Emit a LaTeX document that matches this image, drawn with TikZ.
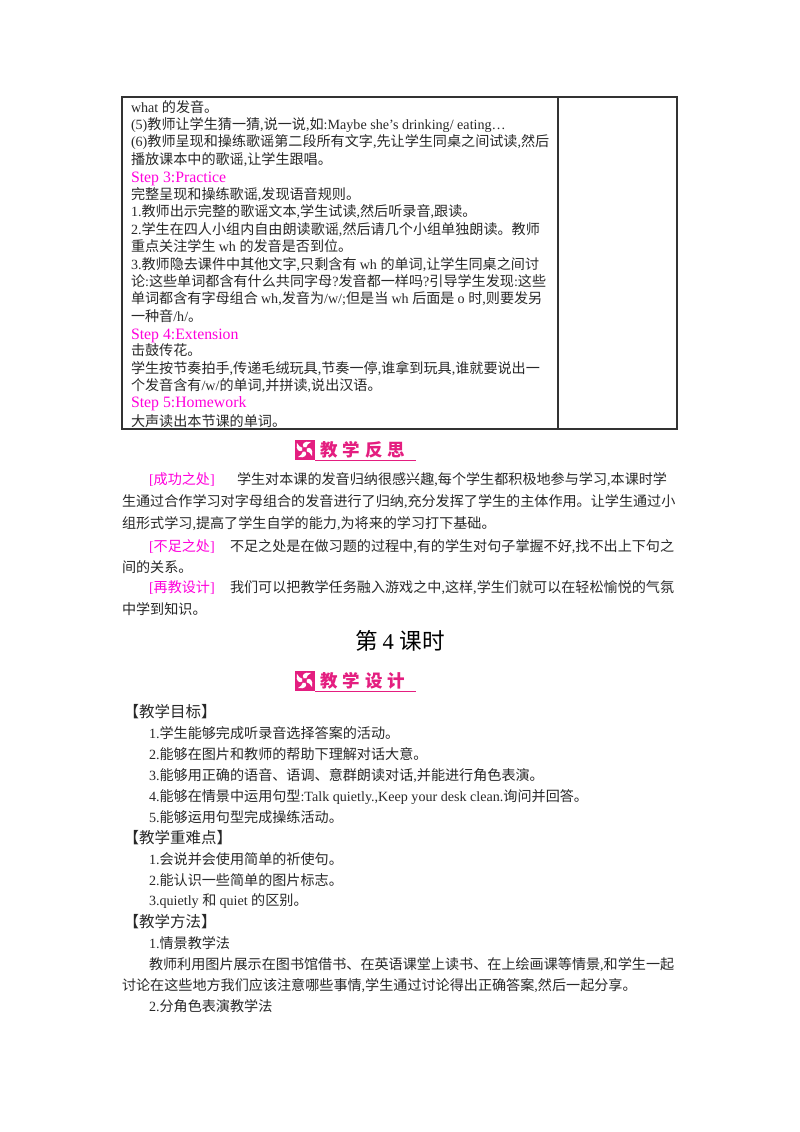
\documentclass[tikz,border=0pt]{standalone}
\usepackage{fontspec}
\setmainfont{Liberation Serif}
\newfontfamily\cjkf{Noto Sans CJK SC}
\newfontfamily\latf{Liberation Serif}
\XeTeXinterchartokenstate=1
\newXeTeXintercharclass\cjkc
\newXeTeXintercharclass\latc
\makeatletter
\newcount\my@c
\def\my@range#1#2#3{\my@c=#1\relax\loop\XeTeXcharclass\my@c=#3\relax\ifnum\my@c<#2\advance\my@c by 1\repeat}
\my@range{"3000}{"303F}{\cjkc}
\my@range{"4E00}{"9FFF}{\cjkc}
\my@range{"FF00}{"FFEF}{\cjkc}
\my@range{33}{126}{\latc}
\my@range{"2019}{"2019}{\latc}
\my@range{"2026}{"2026}{\latc}
\makeatother
\XeTeXinterchartoks 4095 \cjkc={\cjkf}
\XeTeXinterchartoks \latc \cjkc={\cjkf}
\XeTeXinterchartoks 0 \cjkc={\cjkf}
\XeTeXinterchartoks \cjkc \latc={\latf}
\XeTeXinterchartoks \cjkc 0={\latf}
\XeTeXinterchartoks 4095 \latc={\latf}
\XeTeXinterchartoks 4095 0={\latf}
\definecolor{mag}{RGB}{255,0,220}
\definecolor{ink}{RGB}{40,40,40}
\definecolor{rosec}{RGB}{228,30,128}
\tikzset{
 ln/.style={anchor=base west,inner sep=0pt,outer sep=0pt,text=ink,font=\fontsize{14.1}{17}\selectfont},
 stp/.style={ln,text=mag,font=\fontsize{15.8}{17}\selectfont},
 tag/.style={ln,text=mag},
 sect/.style={ln,font=\fontsize{15.5}{17}\selectfont},
 rule/.style={draw=black!80,line width=1.1pt},
 hdr/.style={anchor=base west,inner sep=0pt,outer sep=0pt,text=rosec,font=\fontsize{17.5}{18}\bfseries\selectfont},
}
\newcommand{\hs}{\hspace{4.8pt}}
\newcommand{\badge}[3]{% x, y(top), text
  \fill[rosec] (#1,#2) rectangle ++(20,20);
  \foreach \a in {0,90,180,270}{
    \fill[white,shift={(#1+10,#2+10)},rotate=\a] (-0.8,-2) .. controls (-3.5,-5.5) and (0,-9) .. (6.5,-7.5) .. controls (3.5,-6.5) and (2.5,-4) .. (1.6,-2) .. controls (1,-2.8) and (0,-2.8) .. (-0.8,-2) -- cycle;
  }
  \fill[rosec] (#1+20,#2+20.6) rectangle ++(101,0.7);
  \node[hdr] at (#1+26,#2+17) {#3};
}
\begin{document}
\begin{tikzpicture}[x=1pt,y=-1pt]
\useasboundingbox[fill=white] (0,0) rectangle (800,1132);
% table
\draw[rule] (122,97) rectangle (677,429);
\draw[rule] (558,97) -- (558,429);
% table text
\node[ln] (t1) at (131,112) {what 的发音。};
\node[ln] (t2) at (131,129.2) {(5)教师让学生猜一猜,说一说,如:Maybe she’s drinking/ eating…};
\node[ln] (t3) at (131,146.8) {(6)教师呈现和操练歌谣第二段所有文字,先让学生同桌之间试读,然后};
\node[ln] (t4) at (131,164) {播放课本中的歌谣,让学生跟唱。};
\node[stp] (t5) at (131,182) {Step 3:Practice};
\node[ln] (t6) at (131,199) {完整呈现和操练歌谣,发现语音规则。};
\node[ln] (t7) at (131,216.5) {1.教师出示完整的歌谣文本,学生试读,然后听录音,跟读。};
\node[ln] (t8) at (131,234) {2.学生在四人小组内自由朗读歌谣,然后请几个小组单独朗读。教师};
\node[ln] (t9) at (131,251.5) {重点关注学生 wh 的发音是否到位。};
\node[ln] (t10) at (131,269) {3.教师隐去课件中其他文字,只剩含有 wh 的单词,让学生同桌之间讨};
\node[ln] (t11) at (131,286) {论:这些单词都含有什么共同字母?发音都一样吗?引导学生发现:这些};
\node[ln] (t12) at (131,303.5) {单词都含有字母组合 wh,发音为/w/;但是当 wh 后面是 o 时,则要发另};
\node[ln] (t13) at (131,321) {一种音/h/。};
\node[stp] (t14) at (131,339) {Step 4:Extension};
\node[ln] (t15) at (131,355.5) {击鼓传花。};
\node[ln] (t16) at (131,373) {学生按节奏拍手,传递毛绒玩具,节奏一停,谁拿到玩具,谁就要说出一};
\node[ln] (t17) at (131,390) {个发音含有/w/的单词,并拼读,说出汉语。};
\node[stp] (t18) at (131,407.5) {Step 5:Homework};
\node[ln] (t19) at (131,426) {大声读出本节课的单词。};
\badge{294.5}{439.5}{教\hs 学\hs 反\hs 思}
% reflection
\node[tag] (r1a) at (149,484) {[成功之处]};
\node[ln] (r1b) at (237,484) {学生对本课的发音归纳很感兴趣,每个学生都积极地参与学习,本课时学};
\node[ln] (r2) at (122,506) {生通过合作学习对字母组合的发音进行了归纳,充分发挥了学生的主体作用。让学生通过小};
\node[ln] (r3) at (122,528) {组形式学习,提高了学生自学的能力,为将来的学习打下基础。};
\node[tag] (r4a) at (149,551) {[不足之处]};
\node[ln] (r4b) at (230,551) {不足之处是在做习题的过程中,有的学生对句子掌握不好,找不出上下句之};
\node[ln] (r5) at (122,572) {间的关系。};
\node[tag] (r6a) at (149,592) {[再教设计]};
\node[ln] (r6b) at (230,592) {我们可以把教学任务融入游戏之中,这样,学生们就可以在轻松愉悦的气氛};
\node[ln] (r7) at (122,614) {中学到知识。};
\node[ln,text=black,font=\fontsize{22.6}{24}\selectfont] (title) at (355,649) {第 4 课时};
\badge{294.5}{670.5}{教\hs 学\hs 设\hs 计}
% section
\node[sect] (s1) at (123.5,717.5) {【教学目标】};
\node[ln] (s2) at (149,738) {1.学生能够完成听录音选择答案的活动。};
\node[ln] (s3) at (149,759) {2.能够在图片和教师的帮助下理解对话大意。};
\node[ln] (s4) at (149,780) {3.能够用正确的语音、语调、意群朗读对话,并能进行角色表演。};
\node[ln] (s5) at (149,801) {4.能够在情景中运用句型:Talk quietly.,Keep your desk clean.询问并回答。};
\node[ln] (s6) at (149,822) {5.能够运用句型完成操练活动。};
\node[sect] (s7) at (123.5,843.5) {【教学重难点】};
\node[ln] (s8) at (149,864) {1.会说并会使用简单的祈使句。};
\node[ln] (s9) at (149,885) {2.能认识一些简单的图片标志。};
\node[ln] (s10) at (149,905) {3.quietly 和 quiet 的区别。};
\node[sect] (s11) at (123.5,927.5) {【教学方法】};
\node[ln] (s12) at (149,948) {1.情景教学法};
\node[ln] (s13) at (149,969) {教师利用图片展示在图书馆借书、在英语课堂上读书、在上绘画课等情景,和学生一起};
\node[ln] (s14) at (122,990) {讨论在这些地方我们应该注意哪些事情,学生通过讨论得出正确答案,然后一起分享。};
\node[ln] (s15) at (149,1011) {2.分角色表演教学法};
\end{tikzpicture}
\end{document}
